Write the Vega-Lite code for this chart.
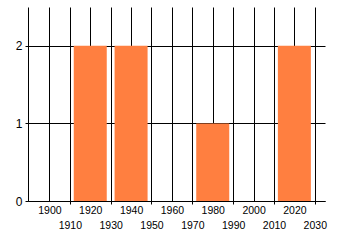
{
  "$schema": "https://vega.github.io/schema/vega-lite/v6.json",
  "autosize": "none",
  "padding": {"left": 28, "top": 7, "right": 15, "bottom": 44},
  "width": 297,
  "height": 194,
  "background": "white",
  "config": {"view": {"stroke": null}},
  "data": {
    "values": [
      {"year": 1920, "count": 2},
      {"year": 1940, "count": 2},
      {"year": 1980, "count": 1},
      {"year": 2020, "count": 2}
    ]
  },
  "mark": {"type": "bar", "size": 33, "color": "#FF7F40"},
  "encoding": {
    "x": {
      "field": "year",
      "type": "quantitative",
      "scale": {"domain": [1889.5, 2035], "nice": false, "zero": false, "padding": 0},
      "axis": {
        "title": null,
        "values": [1900, 1910, 1920, 1930, 1940, 1950, 1960, 1970, 1980, 1990, 2000, 2010, 2020, 2030],
        "format": "d",
        "labelExpr": "datum.value % 20 == 10 ? ['', datum.label] : datum.label",
        "labelLineHeight": 15,
        "labelOverlap": false,
        "labelFlush": false,
        "labelFont": "Liberation Sans",
        "labelFontSize": 10.5,
        "labelColor": "black",
        "labelPadding": 1,
        "grid": true,
        "gridColor": "black",
        "gridOpacity": 1,
        "domainColor": "black",
        "tickSize": 3,
        "tickColor": {"condition": {"test": "datum.value % 20 == 0", "value": "transparent"}, "value": "black"}
      }
    },
    "y": {
      "field": "count",
      "type": "quantitative",
      "scale": {"domain": [0, 2.5], "nice": false},
      "axis": {
        "title": null,
        "values": [0, 1, 2],
        "labelFont": "Liberation Sans",
        "labelFontSize": 12,
        "labelColor": "black",
        "labelPadding": 3,
        "grid": true,
        "gridColor": "black",
        "gridOpacity": 1,
        "domainColor": "black",
        "tickColor": "black",
        "tickSize": 3
      }
    }
  }
}
